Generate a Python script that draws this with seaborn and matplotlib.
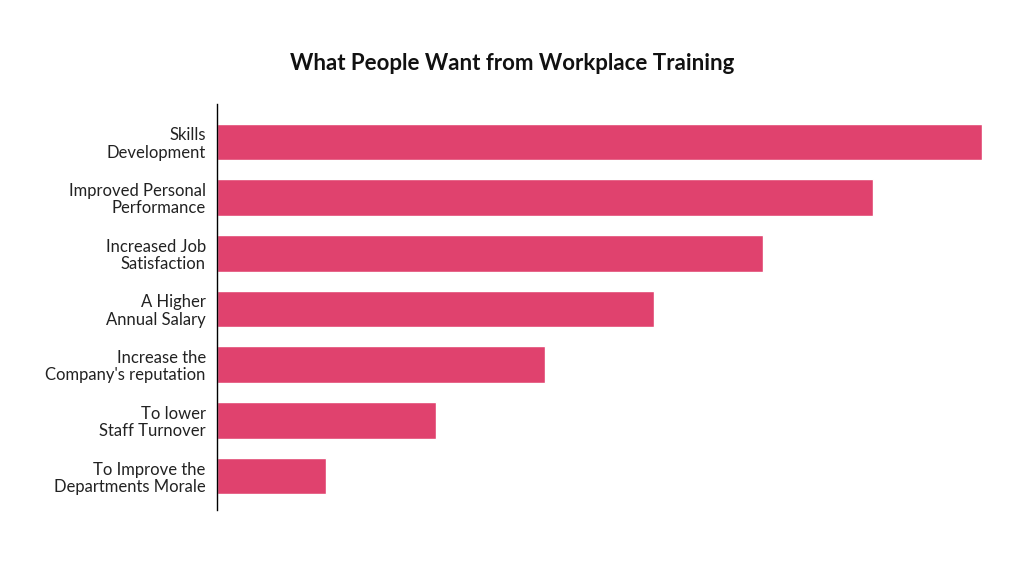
import matplotlib
matplotlib.use("Agg")
import matplotlib.pyplot as plt
import seaborn as sns
import pandas as pd

categories = [
    "Skills\nDevelopment",
    "Improved Personal\nPerformance",
    "Increased Job\nSatisfaction",
    "A Higher\nAnnual Salary",
    "Increase the\nCompany's reputation",
    "To lower\nStaff Turnover",
    "To Improve the\nDepartments Morale",
]
values = [7, 6, 5, 4, 3, 2, 1]

df = pd.DataFrame({"reason": categories, "score": values})

sns.set_theme(style="white")
plt.rcParams["font.family"] = ["Lato", "DejaVu Sans"]

fig = plt.figure(figsize=(10.24, 5.74), dpi=100)
ax = fig.add_axes([0.2119, 0.1115, 0.7471, 0.7073])

sns.barplot(data=df, y="reason", x="score", color="#E0426E", width=0.66,
            saturation=1, ax=ax)

ax.set_xlim(0, 7)
ax.set_ylim(6.61, -0.68)
ax.set_xlabel("")
ax.set_ylabel("")
ax.set_xticks([])
for s in ["top", "right", "bottom"]:
    ax.spines[s].set_visible(False)
ax.spines["left"].set_color("black")
ax.spines["left"].set_linewidth(1.0)
ax.tick_params(axis="y", length=0, pad=8, labelsize=12, labelcolor="#222222")
for lbl in ax.get_yticklabels():
    lbl.set_horizontalalignment("right")
    lbl.set_multialignment("right")
    lbl.set_linespacing(1.1)

fig.text(0.500, 0.89, "What People Want from Workplace Training",
         ha="center", va="center", fontsize=16, fontweight="bold", color="#111111")

fig.savefig("out.png", dpi=100, facecolor="white")
